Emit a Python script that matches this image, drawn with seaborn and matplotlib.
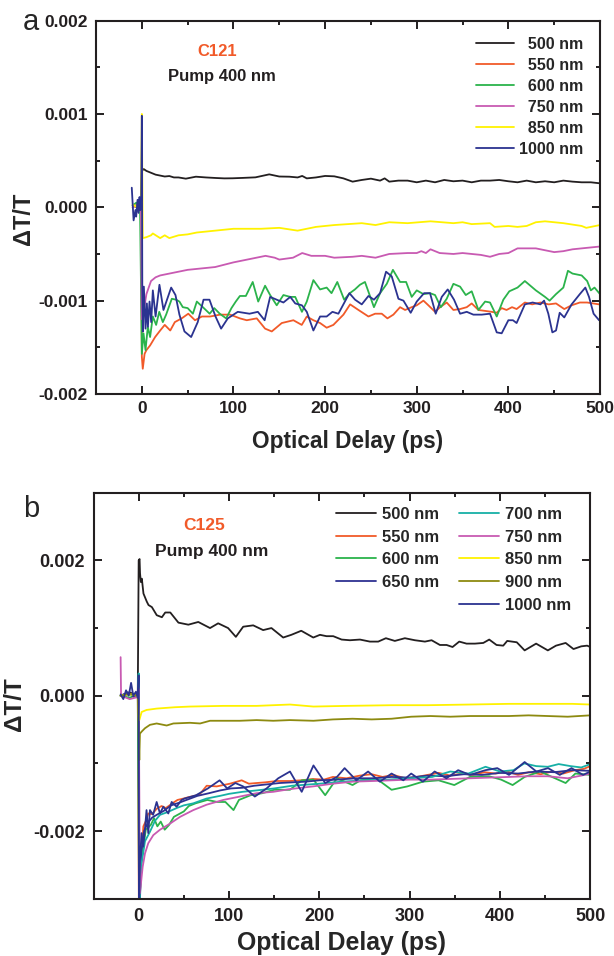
import numpy as np
import matplotlib
matplotlib.use('Agg')
import matplotlib.pyplot as plt
from matplotlib.ticker import MultipleLocator, FormatStrFormatter, FixedLocator
from matplotlib.lines import Line2D
import seaborn as sns

# ---------------- data (delay in ps, dT/T in units of 1e-3) ----------------
# panel a : C121
a_500 = np.array([(-10, 0.02), (-5, 0.0), (-1, 0.03), (0, 0.39), (2, 0.41), (5, 0.39), (10, 0.37), (15, 0.35),
                  (20, 0.34), (25, 0.33), (30, 0.335), (35, 0.32), (40, 0.32), (48, 0.307), (59, 0.328), (70, 0.32),
                  (81, 0.314), (90, 0.31), (99, 0.311), (110, 0.315), (124, 0.321), (139, 0.353), (150, 0.33),
                  (161, 0.328), (170, 0.32), (175, 0.336), (180, 0.31), (190, 0.32), (200, 0.336), (210, 0.332),
                  (220, 0.31), (230, 0.275), (240, 0.293), (250, 0.307), (260, 0.286), (265, 0.31), (270, 0.275),
                  (280, 0.286), (290, 0.286), (300, 0.268), (310, 0.286), (320, 0.268), (330, 0.293), (340, 0.279),
                  (350, 0.286), (360, 0.268), (370, 0.286), (380, 0.286), (390, 0.293), (400, 0.279), (410, 0.268),
                  (420, 0.286), (430, 0.268), (440, 0.279), (450, 0.268), (460, 0.286), (470, 0.275), (480, 0.268),
                  (490, 0.268), (500, 0.257)])
a_550 = np.array([(-10, 0.0), (-5, 0.03), (-1, 0.0), (0, -1.6), (1, -1.73), (3, -1.57), (5, -1.53), (9, -1.48),
                  (14.5, -1.39), (20, -1.32), (25, -1.26), (31, -1.32), (36, -1.23), (43.5, -1.19), (50.7, -1.14),
                  (58, -1.21), (65.5, -1.17), (74.5, -1.17), (85.5, -1.15), (96.4, -1.15), (107, -1.19),
                  (114.5, -1.21), (125.4, -1.19), (134.5, -1.30), (141.8, -1.33), (152.7, -1.24), (165.4, -1.21),
                  (174.5, -1.26), (180, -1.17), (187.2, -1.21), (194.5, -1.24), (201.7, -1.29), (209, -1.26),
                  (220, -1.15), (227.3, -1.04), (236.4, -1.10), (247.3, -1.17), (254.6, -1.14), (261.8, -1.14),
                  (268, -1.19), (274.5, -1.15), (281.8, -1.07), (287.3, -1.10), (294.5, -1.07), (300, -1.05),
                  (307.3, -1.0), (312.7, -1.05), (320, -1.12), (325.5, -1.07), (332.7, -1.02), (340, -1.10),
                  (347.3, -1.09), (354.6, -1.07), (360, -1.03), (367.3, -1.10), (374.6, -1.11), (381.8, -1.12),
                  (387.3, -1.13), (392.7, -1.08), (398, -1.10), (404, -1.07), (409, -1.09), (418, -1.02),
                  (426, -1.04), (435, -1.02), (444, -1.04), (452, -1.03), (461, -1.09), (469, -1.05), (478, -1.02),
                  (486, -1.02), (499, -1.04)])
a_600 = np.array([(-10, 0.02), (-6, 0.05), (-2, 0.0), (0, -1.57), (1.8, -1.35), (4, -1.53), (6.5, -1.28), (9, -1.39),
                  (12, -1.17), (15.6, -1.26), (19, -1.12), (22.9, -1.23), (26.5, -1.15), (32.7, -0.98), (37.5, -0.99),
                  (41, -1.01), (44.7, -1.07), (50, -1.08), (55.7, -1.14), (60, -1.01), (66.6, -1.07), (74, -1.14),
                  (79, -1.08), (85, -1.14), (92, -1.19), (97.8, -1.08), (102.5, -1.01), (107, -0.95), (113.5, -0.95),
                  (121, -0.80), (127, -1.01), (134.5, -0.84), (140, -0.94), (147.2, -1.05), (154.5, -0.94),
                  (162, -0.96), (167.4, -0.96), (174.7, -1.12), (180, -1.01), (187.2, -0.78), (194.5, -0.88),
                  (201.7, -0.86), (207, -0.92), (213.3, -0.80), (220.8, -0.99), (227, -0.92), (232.5, -0.88),
                  (238, -0.83), (243.5, -0.80), (253.3, -1.07), (260, -0.92), (267.3, -0.82), (274, -0.67),
                  (281.8, -0.80), (288.4, -0.80), (294.5, -0.96), (300, -0.89), (307.3, -0.93), (314.5, -0.92),
                  (320, -0.94), (326.3, -1.07), (332.7, -0.98), (340, -0.82), (347.3, -0.85), (353.5, -0.94),
                  (360, -0.90), (367.3, -1.10), (374.6, -1.01), (380, -1.02), (387.3, -1.17), (394.5, -0.99),
                  (401, -0.90), (410, -0.86), (418, -0.79), (430, -0.89), (440, -0.96), (445, -1.0), (452, -0.93),
                  (460, -0.86), (465, -0.68), (470, -0.71), (480, -0.73), (486, -0.79), (490, -0.89), (494, -0.86),
                  (500, -0.93)])
a_750 = np.array([(-10, 0.0), (-5, 0.02), (-1, 0.0), (0, -1.2), (2, -1.11), (5, -0.93), (10, -0.79), (15, -0.75),
                  (20, -0.73), (30, -0.71), (40, -0.69), (50, -0.67), (60, -0.66), (80, -0.64), (100, -0.59),
                  (120, -0.55), (135, -0.52), (145, -0.54), (150, -0.56), (165, -0.54), (175, -0.49), (185, -0.52),
                  (200, -0.52), (210, -0.54), (230, -0.53), (240, -0.52), (255, -0.54), (270, -0.50), (290, -0.49),
                  (300, -0.49), (305, -0.47), (310, -0.49), (315, -0.45), (325, -0.49), (340, -0.50), (350, -0.49),
                  (370, -0.51), (380, -0.53), (390, -0.50), (400, -0.49), (410, -0.44), (430, -0.44), (440, -0.46),
                  (450, -0.48), (460, -0.47), (470, -0.45), (490, -0.43), (500, -0.42)])
a_850 = np.array([(-10, 0.03), (-5, 0.0), (-1, 0.02), (0, 1.0), (1, -0.33), (5, -0.32), (10, -0.30), (12, -0.28),
                  (20, -0.33), (25, -0.30), (30, -0.33), (40, -0.30), (50, -0.29), (60, -0.27), (80, -0.25),
                  (100, -0.23), (130, -0.23), (150, -0.22), (170, -0.25), (190, -0.21), (210, -0.19), (240, -0.17),
                  (255, -0.19), (270, -0.16), (290, -0.17), (315, -0.15), (340, -0.17), (350, -0.16), (360, -0.18),
                  (380, -0.17), (385, -0.21), (400, -0.20), (410, -0.21), (420, -0.20), (430, -0.16), (440, -0.15),
                  (460, -0.17), (480, -0.20), (485, -0.22), (500, -0.19)])
a_1000 = np.array([(-11, 0.21), (-9, -0.14), (-7, -0.03), (-6.2, -0.10), (-4.7, 0.08), (-3.6, -0.06), (-2.5, 0.11),
                   (-1.8, -0.03), (-0.7, 0.08), (0, 0.98), (0.5, -0.89), (1.1, -1.33), (2.2, -0.85), (4, -1.30),
                   (5.5, -1.03), (6.6, -1.28), (8.4, -1.01), (10.2, -1.23), (12, -0.89), (15, -1.17), (19.2, -0.83),
                   (23.6, -1.10), (32, -0.86), (36.7, -0.94), (41, -1.15), (46.5, -1.33), (53.8, -1.39),
                   (61, -1.23), (67.3, -0.99), (73.8, -0.99), (80.4, -1.17), (86.5, -1.30), (93.8, -1.19),
                   (104.7, -1.12), (117.5, -1.14), (126.6, -1.12), (134, -1.21), (140, -0.96), (147.2, -0.99),
                   (154.5, -1.02), (162, -0.96), (167.4, -1.03), (174.7, -1.05), (180, -1.12), (187.2, -1.32),
                   (194.5, -1.17), (201.7, -1.17), (208, -1.12), (214.5, -1.14), (226.5, -0.92), (232.7, -0.99),
                   (240, -1.04), (247.3, -0.95), (253.3, -0.99), (260, -0.92), (266.5, -0.69), (272.7, -0.74),
                   (280, -0.98), (285.5, -1.0), (293.4, -1.13), (300, -1.01), (308, -0.92), (314.5, -0.92),
                   (320.7, -1.14), (327.3, -0.96), (333.8, -0.88), (340.7, -0.99), (347.3, -1.14), (354.6, -1.12),
                   (361.8, -1.15), (370.9, -1.15), (380, -1.14), (387.3, -1.34), (392.7, -1.35), (400, -1.21),
                   (405, -1.21), (409, -1.24), (418, -1.04), (426.5, -1.02), (435, -1.04), (439, -1.0),
                   (443.6, -1.14), (448, -1.34), (452, -1.32), (456, -1.13), (461, -1.18), (469, -1.04),
                   (478, -0.93), (484, -0.86), (488, -0.96), (493, -1.14), (499, -1.21)])

# panel b : C125
b_500 = np.array([(-20, 0.0), (-10, 0.05), (-1, 0.0), (0, 2.0), (1, 2.02), (1.5, 1.81), (2.4, 1.68), (3.5, 1.73),
                  (5.3, 1.51), (9, 1.39), (10.9, 1.34), (14.6, 1.31), (20, 1.19), (25.7, 1.16), (29.4, 1.23),
                  (35, 1.23), (44, 1.08), (55, 1.05), (66, 1.09), (79, 1.0), (88, 1.07), (99, 1.0), (107.6, 0.87),
                  (115.7, 1.02), (126.8, 1.04), (137.8, 0.97), (147, 1.0), (160, 0.86), (169, 0.90), (180, 0.96),
                  (193.3, 0.86), (200.7, 0.90), (208, 0.88), (215.4, 0.88), (224.7, 0.83), (233.9, 0.82),
                  (245, 0.83), (256, 0.80), (265.2, 0.80), (273.7, 0.85), (283.6, 0.81), (294.7, 0.85),
                  (305.8, 0.82), (316.9, 0.80), (324.3, 0.82), (333.5, 0.75), (340.9, 0.75), (347.5, 0.72),
                  (354.9, 0.80), (363, 0.77), (372.3, 0.77), (381.5, 0.78), (388.1, 0.83), (396.2, 0.75),
                  (403.6, 0.74), (408, 0.81), (418.6, 0.79), (427.3, 0.67), (440, 0.77), (453, 0.67), (462, 0.74),
                  (472.7, 0.78), (481.4, 0.69), (490, 0.73), (496.5, 0.74), (500, 0.72)])
b_550 = np.array([(-20, 0.0), (-10, 0.03), (-1, 0.0), (0.3, -3.3), (3, -2.4), (5.2, -1.93), (8, -1.85), (10.6, -1.74),
                  (15, -1.75), (19.9, -1.67), (25.4, -1.63), (30, -1.66), (38.4, -1.58), (43, -1.54), (49.5, -1.52),
                  (55, -1.50), (62, -1.48), (68, -1.45), (75.3, -1.33), (86.4, -1.34), (101, -1.30), (114, -1.25),
                  (122, -1.30), (130.6, -1.29), (140, -1.28), (152.8, -1.26), (167.5, -1.26), (180, -1.25),
                  (193, -1.23), (205, -1.24), (215, -1.20), (230, -1.22), (245, -1.18), (258, -1.16), (270, -1.20),
                  (282, -1.17), (295, -1.22), (308, -1.20), (320, -1.17), (332, -1.14), (345, -1.18), (358, -1.15),
                  (370, -1.17), (383, -1.13), (395, -1.15), (408, -1.12), (420, -1.17), (432, -1.13), (445, -1.16),
                  (458, -1.12), (470, -1.15), (483, -1.10), (493, -1.08), (500, -1.04)])
b_600 = np.array([(-20, 0.0), (-10, -0.03), (-1, 0.02), (0.55, -3.3), (1.5, -2.87), (2.4, -2.52), (4.2, -2.33),
                  (7.9, -1.98), (13.4, -1.91), (17, -1.81), (20.7, -1.93), (24.4, -1.86), (28.8, -1.98),
                  (33.6, -1.91), (39, -1.79), (50, -1.71), (55.5, -1.63), (63, -1.59), (76, -1.54), (87, -1.57),
                  (96, -1.57), (105, -1.69), (111, -1.54), (124, -1.47), (137, -1.44), (150, -1.39), (167.5, -1.39),
                  (180.5, -1.25), (193.5, -1.24), (206.5, -1.47), (219.5, -1.22), (236.8, -1.32), (245.5, -1.25),
                  (262.8, -1.22), (280, -1.39), (297.4, -1.34), (314.7, -1.27), (332, -1.25), (349.4, -1.32),
                  (366.7, -1.20), (388, -1.19), (401.3, -1.24), (414, -1.32), (427.3, -1.20), (444.6, -1.12),
                  (457.6, -1.20), (472.7, -1.29), (483.5, -1.15), (500, -1.17)])
b_650 = np.array([(-20, 0.0), (-12, 0.05), (-5, -0.02), (-1, 0.03), (0, 0.25), (0.5, -3.3), (3, -2.3), (6, -2.0),
                  (10, -1.88), (15, -1.80), (20, -1.76), (28, -1.70), (36, -1.62), (45, -1.58), (55, -1.53),
                  (65, -1.48), (78, -1.44), (90, -1.40), (102, -1.37), (115, -1.36), (128, -1.33), (142, -1.31),
                  (156, -1.29), (170, -1.28), (185, -1.27), (200, -1.25), (220, -1.24), (240, -1.22), (260, -1.22),
                  (280, -1.20), (300, -1.21), (320, -1.18), (340, -1.19), (360, -1.16), (380, -1.17), (400, -1.14),
                  (420, -1.15), (440, -1.12), (460, -1.13), (480, -1.10), (500, -1.11)])
b_700 = np.array([(-20, 0.0), (-10, 0.02), (-1, 0.0), (0, 0.33), (0.5, -3.3), (3, -2.5), (7, -2.15), (12.5, -2.01),
                  (18, -1.85), (23.6, -1.76), (32, -1.72), (42, -1.66), (50, -1.62), (60.5, -1.59), (75, -1.52),
                  (90, -1.48), (100, -1.45), (115, -1.42), (130, -1.40), (150, -1.37), (170, -1.33), (200, -1.30),
                  (225, -1.27), (250, -1.25), (275, -1.24), (300, -1.22), (325, -1.20), (345, -1.12), (365, -1.15),
                  (384, -1.05), (400, -1.12), (415, -1.10), (427, -1.00), (440, -1.04), (453, -1.05), (465, -1.01),
                  (478, -1.04), (490, -1.06), (500, -1.01)])
b_750 = np.array([(-20, 0.57), (-19.5, 0.0), (-10, -0.05), (-1, -0.02), (0, 0.1), (1.4, -2.92), (4.4, -2.53),
                  (7, -2.33), (10.6, -2.18), (16.2, -2.06), (23.6, -1.98), (34.7, -1.89), (45.8, -1.79),
                  (60.5, -1.69), (75.3, -1.61), (93.7, -1.54), (112, -1.49), (130.6, -1.44), (149, -1.42),
                  (167.5, -1.38), (193, -1.34), (215, -1.30), (236.8, -1.27), (260, -1.26), (280, -1.25),
                  (300, -1.24), (323, -1.24), (345, -1.23), (366.7, -1.22), (388, -1.21), (410, -1.20), (430, -1.19),
                  (453, -1.19), (475, -1.22), (490, -1.18), (500, -1.15)])
b_850 = np.array([(-20, 0.0), (-10, 0.02), (-1, 0.0), (0.3, -0.36), (0.7, -0.36), (3.3, -0.24), (8.8, -0.21),
                  (19.9, -0.19), (40, -0.17), (56.8, -0.16), (93.7, -0.15), (130.6, -0.15), (167.5, -0.13),
                  (193.5, -0.16), (230, -0.15), (280, -0.14), (320, -0.14), (366.7, -0.13), (410, -0.12),
                  (453, -0.12), (480, -0.12), (500, -0.13)])
b_900 = np.array([(-20, 0.0), (-10, 0.03), (-1, 0.0), (0.7, -0.95), (1.4, -0.56), (3.3, -0.53), (7, -0.48),
                  (12.5, -0.43), (19.9, -0.41), (31, -0.44), (38.4, -0.41), (56.8, -0.40), (68, -0.41), (79, -0.37),
                  (93.7, -0.37), (112, -0.37), (130.6, -0.36), (149, -0.37), (167.5, -0.36), (193.5, -0.37),
                  (215, -0.35), (236.8, -0.34), (258, -0.35), (280, -0.34), (301.7, -0.31), (323, -0.30),
                  (345, -0.31), (366.7, -0.30), (388, -0.30), (410, -0.30), (431.6, -0.29), (453, -0.30),
                  (475, -0.31), (500, -0.29)])
b_1000 = np.array([(-20, 0.02), (-17, -0.05), (-14, 0.08), (-11, 0.0), (-8.4, 0.19), (-6, 0.0), (-3, 0.06),
                   (-1, -0.03), (0, 0.3), (0.4, -3.3), (1.4, -2.43), (3.2, -2.03), (5, -2.23), (6.9, -1.98),
                   (8.7, -1.69), (10.6, -2.03), (12.5, -1.69), (16, -1.76), (19.9, -1.57), (23.6, -1.74),
                   (27.3, -1.64), (32.8, -1.74), (36.5, -1.57), (42, -1.64), (47.6, -1.54), (50.6, -1.52),
                   (63.6, -1.47), (76.6, -1.37), (89.6, -1.25), (98, -1.37), (107, -1.29), (115.6, -1.34),
                   (128.6, -1.49), (141.6, -1.37), (154.5, -1.22), (167.5, -1.12), (180.5, -1.42), (193.5, -1.03),
                   (206.5, -1.29), (219.5, -1.20), (228, -1.07), (241, -1.25), (254, -1.12), (267, -1.27),
                   (280, -1.15), (293, -1.25), (301.7, -1.15), (314.7, -1.27), (327.7, -1.12), (340.7, -1.22),
                   (353.7, -1.10), (366.7, -1.17), (384, -1.10), (397, -1.07), (410, -1.17), (427.3, -0.98),
                   (440.3, -1.12), (453.2, -1.07), (466.2, -1.17), (479.2, -1.07), (492, -1.17), (500, -1.12)])

labels_a = ['500 nm', '550 nm', '600 nm', '750 nm', '850 nm', '1000 nm']
labels_b = ['500 nm', '550 nm', '600 nm', '650 nm', '700 nm', '750 nm', '850 nm', '900 nm', '1000 nm']

colors = {'500 nm': '#231F20', '550 nm': '#F15A29', '600 nm': '#2BB34B', '650 nm': '#2E3192',
          '700 nm': '#17B0A6', '750 nm': '#C85AB2', '850 nm': '#FFF200', '900 nm': '#8D8A10',
          '1000 nm': '#2B3390'}

# ---------------- style ----------------
sns.set_style('ticks')
plt.rcParams['font.family'] = ['Liberation Sans', 'DejaVu Sans']
plt.rcParams['font.weight'] = 'bold'
plt.rcParams['axes.unicode_minus'] = False
plt.rcParams['axes.linewidth'] = 1.5
plt.rcParams['axes.edgecolor'] = '#231F20'

fig = plt.figure(figsize=(6.14, 9.56), dpi=100)
ax_a = fig.add_axes([0.1564, 0.5879, 0.8208, 0.3905])
ax_b = fig.add_axes([0.1523, 0.0599, 0.8091, 0.4247])

for lab, arr in zip(labels_a, [a_500, a_550, a_600, a_750, a_850, a_1000]):
    sns.lineplot(x=arr[:, 0], y=arr[:, 1] * 1e-3, ax=ax_a, color=colors[lab], lw=1.3,
                 sort=False, estimator=None, label=lab)

for lab, arr in zip(labels_b, [b_500, b_550, b_600, b_650, b_700, b_750, b_850, b_900, b_1000]):
    sns.lineplot(x=arr[:, 0], y=arr[:, 1] * 1e-3, ax=ax_b, color=colors[lab], lw=1.3,
                 sort=False, estimator=None, label=lab)

# axes a
ax_a.set_xlim(-50, 500)
ax_a.set_ylim(-0.002, 0.002)
ax_a.xaxis.set_major_locator(MultipleLocator(100))
ax_a.xaxis.set_minor_locator(MultipleLocator(50))
ax_a.yaxis.set_major_locator(MultipleLocator(0.001))
ax_a.yaxis.set_minor_locator(MultipleLocator(0.0005))
ax_a.yaxis.set_major_formatter(FormatStrFormatter('%.3f'))

# axes b
ax_b.set_xlim(-50, 500)
ax_b.set_ylim(-0.003, 0.003)
ax_b.xaxis.set_major_locator(MultipleLocator(100))
ax_b.xaxis.set_minor_locator(MultipleLocator(50))
ax_b.yaxis.set_major_locator(FixedLocator([-0.002, 0.0, 0.002]))
ax_b.yaxis.set_minor_locator(FixedLocator([-0.003, -0.001, 0.001, 0.003]))
ax_b.yaxis.set_major_formatter(FormatStrFormatter('%.3f'))

for ax, fs, padx, pady in [(ax_a, 12.5, 5, 6), (ax_b, 13, 7, 6.5)]:
    ax.tick_params(which='both', direction='in', top=True, right=True, width=1.4, colors='#231F20')
    ax.tick_params(which='major', length=6)
    ax.tick_params(which='minor', length=3)
    ax.tick_params(axis='x', labelsize=fs, pad=padx)
    ax.tick_params(axis='y', labelsize=fs, pad=pady)
    for t in ax.get_xticklabels() + ax.get_yticklabels():
        t.set_fontweight('bold')

ax_a.set_xlabel('Optical Delay (ps)', fontsize=16.3, fontweight='bold')
ax_a.set_ylabel('ΔT/T', fontsize=17, fontweight='bold')
ax_a.xaxis.set_label_coords(0.5, -0.097)
ax_a.yaxis.set_label_coords(-0.122, 0.47)
ax_b.set_xlabel('Optical Delay (ps)', fontsize=17.8, fontweight='bold')
ax_b.set_ylabel('ΔT/T', fontsize=17.5, fontweight='bold')
ax_b.xaxis.set_label_coords(0.5, -0.08)
ax_b.yaxis.set_label_coords(-0.136, 0.48)

# legends
h, l = ax_a.get_legend_handles_labels()
l = [('\u2007' + s) if len(s) == 6 else s for s in l]
ax_a.legend(h, l, loc='upper left', bbox_to_anchor=(476 / 614, 1 - 37 / 956), bbox_transform=fig.transFigure,
            frameon=False, handlelength=2.4, handletextpad=0.3, labelspacing=0.37,
            borderpad=0, borderaxespad=0, prop={'weight': 'bold', 'size': 11.5})

h, l = ax_b.get_legend_handles_labels()
h.insert(4, Line2D([], [], color='none'))
l.insert(4, ' ')
ax_b.legend(h, l, loc='upper left', bbox_to_anchor=(336 / 614, 1 - 507 / 956), bbox_transform=fig.transFigure,
            ncol=2, frameon=False, handlelength=2.4, handletextpad=0.35, labelspacing=0.46,
            columnspacing=1.2, borderpad=0, borderaxespad=0, prop={'weight': 'bold', 'size': 12})

# annotations
fig.text(217.6 / 614, 1 - 52 / 956, 'C121', color='#F15A29', fontsize=12, fontweight='bold', ha='center', va='center')
fig.text(168 / 614, 1 - 77 / 956, 'Pump 400 nm', color='#231F20', fontsize=12, fontweight='bold', ha='left', va='center')
fig.text(204 / 614, 1 - 525 / 956, 'C125', color='#F15A29', fontsize=12.5, fontweight='bold', ha='center', va='center')
fig.text(155 / 614, 1 - 551.7 / 956, 'Pump 400 nm', color='#231F20', fontsize=12.5, fontweight='bold', ha='left', va='center')
fig.text(31 / 614, 1 - 22 / 956, 'a', fontsize=21, fontweight='normal', ha='center', va='center')
fig.text(31.5 / 614, 1 - 509 / 956, 'b', fontsize=21, fontweight='normal', ha='center', va='center')

fig.savefig('out.png', dpi=100, facecolor='white')
